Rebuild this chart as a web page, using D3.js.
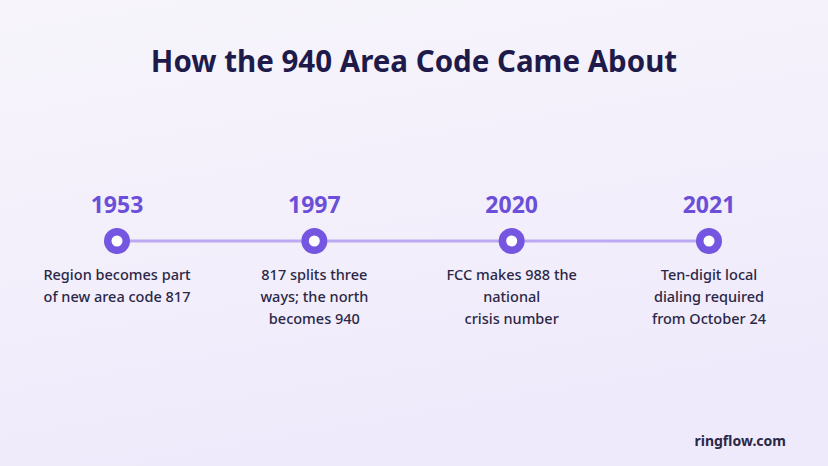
<!DOCTYPE html>
<html><head><meta charset="utf-8">
<script src="https://cdn.jsdelivr.net/npm/d3@7"></script>
<style>body{margin:0;}svg{display:block;}</style>
</head><body><div id="chart"></div>
<script>
const years = ["1953", "1997", "2020", "2021"];
const descriptions = [
  ["Region becomes part", "of new area code 817"],
  ["817 splits three", "ways; the north", "becomes 940"],
  ["FCC makes 988 the", "national", "crisis number"],
  ["Ten-digit local", "dialing required", "from October 24"]
];

const width = 828, height = 466;
const font = "'Noto Sans', sans-serif";
const svg = d3.select("#chart").append("svg")
  .attr("width", width).attr("height", height);

const defs = svg.append("defs");
const grad = defs.append("linearGradient").attr("id", "bg")
  .attr("x1", 0).attr("y1", 0).attr("x2", 0.3).attr("y2", 1);
grad.append("stop").attr("offset", "0%").attr("stop-color", "#f7f5fb");
grad.append("stop").attr("offset", "100%").attr("stop-color", "#efeafb");
svg.append("rect").attr("width", width).attr("height", height).attr("fill", "url(#bg)");

svg.append("text").attr("x", width / 2).attr("y", 72)
  .attr("text-anchor", "middle")
  .style("font", `bold 29.5px ${font}`)
  .attr("fill", "#1e1b4b")
  .text("How the 940 Area Code Came About");

const x = d3.scalePoint().domain(years).range([117, 709]);
const lineY = 241;

svg.append("line")
  .attr("x1", x(years[0])).attr("x2", x(years[years.length - 1]))
  .attr("y1", lineY).attr("y2", lineY)
  .attr("stroke", "#bba9f2").attr("stroke-width", 3);

const g = svg.selectAll(".ev").data(years).enter().append("g")
  .attr("transform", d => `translate(${x(d)},0)`);

g.append("text").attr("y", 213).attr("text-anchor", "middle")
  .style("font", `bold 23px ${font}`)
  .attr("fill", "#6c4fd9").text(d => d);

g.append("circle").attr("cy", lineY).attr("r", 13).attr("fill", "#7456e0");
g.append("circle").attr("cy", lineY).attr("r", 5.5).attr("fill", "#ffffff");

g.each(function(d, i) {
  d3.select(this).selectAll("text.desc").data(descriptions[i]).enter()
    .append("text").attr("class", "desc")
    .attr("y", (t, j) => 280 + j * 22)
    .attr("text-anchor", "middle")
    .style("font", `500 14.5px ${font}`)
    .attr("fill", "#2b2746").text(t => t);
});

svg.append("text").attr("x", 786).attr("y", 446).attr("text-anchor", "end")
  .style("font", `bold 14px ${font}`)
  .attr("fill", "#2b2746").text("ringflow.com");
</script></body></html>
